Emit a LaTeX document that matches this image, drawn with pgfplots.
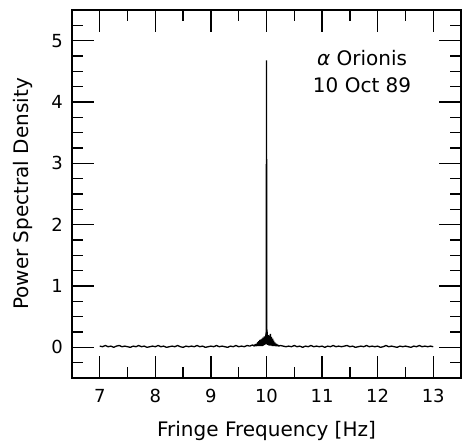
\documentclass[border=0pt]{standalone}
\usepackage{fontspec}
\setmainfont{DejaVu Sans}
\usepackage{pgfplots}
\pgfplotsset{compat=1.18}
\begin{document}
\fontsize{18}{21}\selectfont
\begin{tikzpicture}
\begin{axis}[
  scale only axis,
  width=389pt, height=368pt,
  xmin=6.5, xmax=13.5, ymin=-0.5, ymax=5.5,
  xtick={7,8,...,13}, ytick={0,1,...,5},
  minor xtick={6.5,7.5,...,13.5},
  minor ytick={-0.25,0.25,0.5,0.75,1.25,1.5,1.75,2.25,2.5,2.75,3.25,3.5,3.75,4.25,4.5,4.75,5.25},
  tick align=inside,
  major tick length=22pt, minor tick length=11pt,
  every tick/.style={line width=1.4pt, black},
  axis line style={line width=1.6pt},
  /pgf/number format/assume math mode=true,
  ticklabel style={font=\fontsize{18}{21}\selectfont},
  xticklabel style={yshift=-5pt},
  yticklabel style={xshift=-3pt},
  xlabel={Fringe Frequency [Hz]},
  ylabel={Power Spectral Density},
  label style={font=\fontsize{20}{23}\selectfont},
  xlabel style={yshift=-6pt},
  ylabel style={yshift=6pt},
]
\addplot[black, line width=1.3pt, line join=bevel] table {
7.00 0.02
7.05 0.01
7.10 0.03
7.15 0.01
7.20 0.02
7.25 0.00
7.30 0.02
7.35 0.03
7.40 0.01
7.45 0.02
7.50 0.01
7.55 0.00
7.60 0.02
7.65 0.01
7.70 0.03
7.75 0.01
7.80 0.02
7.85 0.00
7.90 0.01
7.95 0.02
8.00 0.01
8.05 0.03
8.10 0.01
8.15 0.02
8.20 0.00
8.25 0.01
8.30 0.02
8.35 0.01
8.40 0.03
8.45 0.01
8.50 0.00
8.55 0.02
8.60 0.01
8.65 0.02
8.70 0.01
8.75 0.03
8.80 0.01
8.85 0.02
8.90 0.00
8.95 0.01
9.00 0.02
9.05 0.01
9.10 0.03
9.15 0.01
9.20 0.02
9.25 0.01
9.30 0.00
9.35 0.02
9.40 0.01
9.45 0.03
9.50 0.01
9.55 0.02
9.60 0.01
9.65 0.03
9.70 0.02
9.75 0.04
9.78 0.02
9.80 0.05
9.81 0.02
9.82 0.06
9.83 0.02
9.84 0.08
9.845 0.03
9.85 0.09
9.855 0.02
9.86 0.10
9.865 0.03
9.87 0.08
9.875 0.02
9.88 0.12
9.885 0.03
9.89 0.09
9.895 0.02
9.90 0.13
9.905 0.04
9.91 0.10
9.915 0.03
9.92 0.14
9.925 0.02
9.93 0.11
9.935 0.04
9.94 0.16
9.945 0.03
9.95 0.12
9.955 0.05
9.96 0.18
9.965 0.04
9.97 0.13
9.975 0.06
9.98 0.17
9.985 0.05
9.99 0.24
9.995 0.08
10.00 4.68
10.005 0.10
10.01 0.29
10.015 0.05
10.02 0.15
10.025 0.04
10.03 0.20
10.035 0.05
10.04 0.12
10.045 0.03
10.05 0.19
10.055 0.04
10.06 0.14
10.065 0.03
10.07 0.22
10.075 0.05
10.08 0.13
10.085 0.03
10.09 0.17
10.095 0.04
10.10 0.11
10.105 0.02
10.11 0.14
10.115 0.03
10.12 0.09
10.125 0.02
10.13 0.11
10.135 0.03
10.14 0.07
10.145 0.02
10.15 0.08
10.155 0.02
10.16 0.05
10.17 0.02
10.18 0.06
10.19 0.02
10.20 0.04
10.22 0.02
10.25 0.03
10.30 0.02
10.35 0.01
10.40 0.02
10.45 0.01
10.50 0.03
10.55 0.01
10.60 0.02
10.65 0.00
10.70 0.02
10.75 0.01
10.80 0.03
10.85 0.01
10.90 0.02
10.95 0.01
11.00 0.02
11.05 0.00
11.10 0.02
11.15 0.01
11.20 0.03
11.25 0.01
11.30 0.02
11.35 0.01
11.40 0.02
11.45 0.03
11.50 0.01
11.55 0.02
11.60 0.00
11.65 0.01
11.70 0.02
11.75 0.01
11.80 0.03
11.85 0.01
11.90 0.02
11.95 0.01
12.00 0.02
12.05 0.00
12.10 0.01
12.15 0.03
12.20 0.01
12.25 0.02
12.30 0.01
12.35 0.00
12.40 0.02
12.45 0.01
12.50 0.02
12.55 0.01
12.60 0.00
12.65 0.02
12.70 0.01
12.75 0.03
12.80 0.01
12.85 0.02
12.90 0.01
12.95 0.02
13.00 0.01
};
\node[align=center, font=\fontsize{20}{27}\selectfont] at (axis cs:11.72,4.49) {\textit{α} Orionis\\10 Oct 89};
\end{axis}
\path ([xshift=-72pt,yshift=-68pt]current axis.south west) rectangle ([xshift=1pt,yshift=10pt]current axis.north east);
\end{tikzpicture}
\end{document}
